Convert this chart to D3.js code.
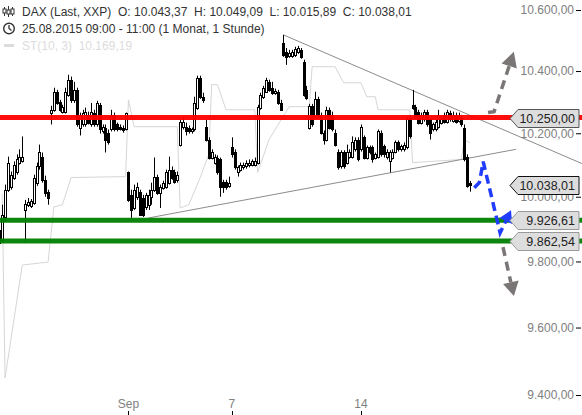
<!DOCTYPE html>
<html><head><meta charset="utf-8">
<script src="https://cdn.jsdelivr.net/npm/d3@7"></script>
<style>
html,body{margin:0;padding:0;background:#fff;}
svg{display:block;font-family:"Liberation Sans",Arial,sans-serif;}
</style></head><body>
<svg id="chart" width="582" height="415"></svg>
<script>
// trading days on the chart, 9 hourly candles each
const days = ["25.08","26.08","27.08","28.08","31.08","01.09","02.09","03.09","04.09","07.09",
  "08.09","09.09","10.09","11.09","14.09","15.09","16.09","17.09","18.09"];
const candlesPerDay = 9;
const dayTicks = [["01.09","Sep"],["07.09","7"],["14.09","14"]];

// hourly candles [open, high, low, close]
const ohlc = [
  [9897,9990,9813,9857],[9866,9975,9860,9944],[9937,10038,9922,10022],[10022,10126,10015,10107],[10031,10079,10022,10069],
  [10060,10111,10053,10101],[10079,10133,10069,10117],[10107,10149,10101,10126],[10111,10190,10107,10126],
  [9959,9990,9857,9978],[9975,9996,9968,9984],[9971,9993,9965,9987],[9981,10069,9975,10060],[10044,10107,10034,10095],
  [10095,10164,10085,10139],[10126,10139,10044,10053],[10053,10066,10000,10012],[10015,10022,9975,9996],
  [10266,10288,10228,10275],[10275,10346,10269,10333],[10333,10339,10291,10297],[10301,10307,10269,10275],[10269,10291,10263,10285],
  [10269,10346,10263,10333],[10323,10388,10317,10372],[10372,10382,10297,10307],[10307,10365,10297,10339],
  [10339,10346,10221,10228],[10218,10266,10193,10259],[10228,10275,10221,10266],[10228,10282,10221,10269],[10259,10269,10228,10234],
  [10228,10297,10221,10269],[10266,10275,10221,10228],[10228,10304,10221,10297],[10291,10297,10199,10212],
  [10206,10228,10199,10221],[10218,10228,10139,10180],[10202,10212,10164,10171],[10212,10275,10206,10259],[10259,10266,10206,10212],
  [10228,10234,10206,10212],[10221,10228,10209,10212],[10218,10225,10202,10209],[10212,10266,10209,10266],
  [10076,10079,9984,9990],[10006,10022,9934,9959],[9965,10038,9959,10022],[10000,10044,9990,10031],[10015,10022,9940,9944],
  [9996,10006,9937,9944],[9968,10012,9959,10006],[9975,10022,9959,10006],[10000,10044,9975,10022],
  [10022,10123,10015,10063],[10063,10069,10006,10012],[10012,10038,9965,10031],[10028,10050,10022,10044],[10031,10085,10025,10076],
  [10044,10126,10038,10085],[10085,10095,10053,10060],[10079,10085,10041,10047],[10053,10079,10044,10069],
  [10164,10244,10158,10237],[10221,10250,10212,10237],[10221,10234,10193,10206],[10218,10225,10199,10206],[10206,10218,10199,10212],
  [10212,10317,10206,10297],[10282,10385,10275,10378],[10378,10385,10310,10317],[10317,10330,10297,10307],
  [10221,10244,10174,10180],[10180,10187,10117,10123],[10123,10149,10117,10139],[10107,10133,10101,10126],[10123,10130,10069,10076],
  [10117,10123,10000,10031],[10047,10053,10012,10031],[10047,10053,10022,10031],[10034,10063,10028,10044],
  [10155,10187,10123,10133],[10139,10149,10085,10092],[10079,10098,10063,10092],[10085,10107,10079,10101],[10092,10107,10085,10101],
  [10095,10114,10088,10107],[10098,10117,10092,10107],[10101,10117,10095,10111],[10101,10123,10095,10111],
  [10107,10291,10101,10285],[10282,10330,10275,10323],[10317,10352,10310,10346],[10333,10378,10330,10372],[10365,10372,10333,10339],
  [10346,10365,10323,10330],[10330,10343,10323,10336],[10333,10339,10291,10297],[10297,10307,10272,10275],
  [10492,10518,10446,10453],[10463,10475,10420,10446],[10450,10469,10443,10459],[10450,10469,10443,10463],[10453,10479,10446,10472],
  [10463,10482,10456,10475],[10469,10475,10440,10446],[10430,10437,10317,10323],[10339,10352,10307,10313],
  [10218,10294,10212,10288],[10288,10294,10221,10228],[10253,10333,10247,10310],[10310,10317,10247,10253],[10259,10266,10196,10202],
  [10202,10209,10164,10180],[10180,10285,10174,10275],[10275,10282,10212,10218],[10259,10269,10206,10212],
  [10202,10212,10158,10164],[10139,10149,10085,10092],[10095,10146,10088,10139],[10139,10146,10088,10095],[10107,10164,10101,10139],
  [10126,10149,10120,10142],[10126,10190,10120,10171],[10149,10187,10142,10180],[10180,10187,10111,10117],
  [10149,10228,10142,10221],[10187,10193,10117,10123],[10123,10161,10117,10155],[10155,10161,10133,10139],[10155,10161,10107,10117],
  [10123,10139,10117,10133],[10126,10212,10120,10206],[10202,10209,10126,10133],[10158,10164,10123,10133],
  [10126,10149,10117,10142],[10111,10146,10076,10139],[10123,10149,10117,10142],[10142,10177,10136,10171],[10171,10177,10142,10149],
  [10149,10164,10142,10158],[10149,10171,10142,10164],[10155,10250,10149,10244],[10250,10256,10183,10190],
  [10291,10339,10275,10282],[10285,10291,10247,10253],[10269,10275,10228,10234],[10234,10266,10228,10259],[10244,10275,10237,10269],
  [10269,10275,10221,10228],[10244,10250,10180,10202],[10212,10234,10206,10228],[10212,10244,10206,10237],
  [10221,10275,10215,10259],[10234,10250,10228,10244],[10259,10266,10231,10237],[10237,10275,10231,10269],[10266,10272,10237,10244],
  [10240,10269,10234,10259],[10259,10266,10231,10237],[10240,10266,10234,10253],[10250,10259,10221,10228],
  [10218,10228,10111,10117],[10126,10133,10028,10034],[10043.37,10049.09,10015.89,10038.01]
];

// SuperTrend(10,3) vertices [candle index, value]
const supertrend = [
  [1,10010],[2,9450],[8,9789],[17,9798],[19,9968],[22,9975],[25,10060],[44,10063],[45,10307],[47,10221],
  [62,10221],[63,9965],[66,9975],[70,10060],[73,10133],[74,10356],[76,10356],[79,10275],[89,10275],[90,10076],
  [94,10180],[101,10285],[108,10285],[109,10414],[117,10414],[120,10362],[126,10362],[128,10317],[131,10317],
  [132,10275],[143,10275],[144,10107],[161,10117],[162,10180],[164,10169.19]
];

const yTicks = [9400, 9600, 9800, 10000, 10200, 10400, 10600];
const levels = [10250, 9926.61, 9862.54];
const levelColors = ["#ff0000", "#008000", "#008000"];
const levelBorders = ["#555", "#999", "#999"];
const trendUpper = [[99, 10518], [203, 10104]];
const trendLower = [[52, 9934], [180, 10149]];
const arrowUp = [[170.3, 10266], [172.4, 10269], [179.3, 10463]];
const arrowDown = [[175.5, 9844], [179.3, 9695]];
const arrowBlue = [[165.5, 10028], [167.3, 10045], [168.2, 10090], [168.6, 10110], [174.5, 9888], [178.3, 9958]];

const W = 582, H = 415;
const svg = d3.select("#chart");
const de = d3.formatLocale({decimal: ",", thousands: ".", grouping: [3], currency: ["", " €"]});
const fmt = de.format(",.2f");

const x = d3.scaleLinear().domain([0, 175]).range([-0.7, 501.55]);
const y = d3.scaleLog().domain([9400, 10600]).range([395, 10]);
const px = i => Math.round(x(i));

// supertrend
svg.append("path")
  .datum(supertrend)
  .attr("d", d3.line().x(d => x(d[0])).y(d => y(d[1])))
  .attr("fill", "none").attr("stroke", "#d6d6d6").attr("stroke-width", 1);

// trend lines
[trendUpper, trendLower].forEach(t => {
  svg.append("line")
    .attr("x1", x(t[0][0])).attr("y1", y(t[0][1]))
    .attr("x2", x(t[1][0])).attr("y2", y(t[1][1]))
    .attr("stroke", "#8c8c8c").attr("stroke-width", 1);
});

// candles
const cg = svg.append("g");
cg.selectAll("line").data(ohlc).join("line")
  .attr("x1", (d, i) => px(i) + 0.5).attr("x2", (d, i) => px(i) + 0.5)
  .attr("y1", d => y(d[1])).attr("y2", d => y(d[2]))
  .attr("stroke", "#000").attr("stroke-width", 1);
cg.selectAll("rect").data(ohlc).join("rect")
  .attr("x", (d, i) => px(i) - 0.5)
  .attr("width", 2)
  .attr("y", d => Math.round(y(Math.max(d[0], d[3]))) + 0.5)
  .attr("height", d => Math.max(1, Math.round(y(Math.min(d[0], d[3]))) - Math.round(y(Math.max(d[0], d[3])))))
  .attr("fill", d => d[3] >= d[0] ? "#fff" : "#000")
  .attr("stroke", "#000").attr("stroke-width", 1);

// horizontal levels
svg.selectAll("line.level").data(levels).join("line")
  .attr("class", "level")
  .attr("x1", 0).attr("x2", W)
  .attr("y1", d => y(d)).attr("y2", d => y(d))
  .attr("stroke", (d, i) => levelColors[i]).attr("stroke-width", 5).attr("opacity", 0.95);

// dashed arrows
function arrow(pts, color, dash, headLen, headW) {
  const p = pts.map(d => [x(d[0]), y(d[1])]);
  const tip = p[p.length - 1], prev = p[p.length - 2];
  const dx = tip[0] - prev[0], dy = tip[1] - prev[1];
  const len = Math.hypot(dx, dy), ux = dx / len, uy = dy / len;
  const base = [tip[0] - ux * headLen, tip[1] - uy * headLen];
  const shaft = p.slice(0, -1).concat([base]);
  svg.append("path")
    .attr("d", d3.line()(shaft))
    .attr("fill", "none").attr("stroke", color).attr("stroke-width", 3.5)
    .attr("stroke-dasharray", dash);
  svg.append("path")
    .attr("d", d3.line()([tip, [base[0] - uy * headW, base[1] + ux * headW], [base[0] + uy * headW, base[1] - ux * headW]]) + "Z")
    .attr("fill", color);
}
arrow(arrowUp, "#7b7676", "9,6", 15, 8);
arrow(arrowDown, "#7b7676", "9,6", 14, 8);
arrow(arrowBlue, "#1f3cff", "9,5", 12, 7);

// y axis
const yAxis = d3.axisLeft(y).tickValues(yTicks).tickFormat(fmt).tickSizeInner(5).tickSizeOuter(0).tickPadding(2);
const ya = svg.append("g").attr("transform", `translate(581,0)`).call(yAxis);
ya.select(".domain").remove();
ya.selectAll("text").attr("fill", "#808080").attr("font-size", 12).attr("font-family", "Liberation Sans, Arial, sans-serif");
ya.selectAll("line").attr("stroke", "#000");

// price labels on the right
function priceLabel(v, border) {
  const yy = Math.round(y(v)) + 0.5;
  const g = svg.append("g");
  g.append("path")
    .attr("d", `M510,${yy}L518,${yy - 9}L579,${yy - 9}L579,${yy + 9}L518,${yy + 9}Z`)
    .attr("fill", "#dddddd").attr("stroke", border).attr("stroke-width", 1);
  g.append("text").attr("x", 575).attr("y", yy + 4.5)
    .attr("text-anchor", "end").attr("font-size", 12.5).attr("fill", "#222")
    .text(fmt(v));
}
levels.forEach((v, i) => priceLabel(v, levelBorders[i]));
priceLabel(ohlc[ohlc.length - 1][3], "#111");

// x axis ticks
const xt = svg.append("g");
dayTicks.forEach(([day, label]) => {
  const i = days.indexOf(day) * candlesPerDay;
  xt.append("text").attr("x", x(i)).attr("y", 408).attr("text-anchor", "middle")
    .attr("font-size", 12).attr("fill", "#808080").text(label);
  xt.append("line").attr("x1", px(i) + 0.5).attr("x2", px(i) + 0.5).attr("y1", 411).attr("y2", 415)
    .attr("stroke", "#000");
});

// header
const last = ohlc[ohlc.length - 1];
const hd = svg.append("g").attr("font-size", 12).attr("fill", "#333");
hd.append("text").attr("x", 22).attr("y", 16).style("white-space", "pre")
  .text(`DAX (Last, XXP)  O: ${fmt(last[0])}  H: ${fmt(last[1])}  L: ${fmt(last[2])}  C: ${fmt(last[3])}`);
hd.append("text").attr("x", 22).attr("y", 33)
  .text(`${days[0]}.2015 09:00 - 11:00 (1 Monat, 1 Stunde)`);
hd.append("text").attr("x", 22).attr("y", 50).attr("fill", "#dcdcdc").style("white-space", "pre")
  .text(`ST(10, 3)  ${fmt(supertrend[supertrend.length - 1][1])}`);
// icons
const ic = svg.append("g").attr("stroke", "#333").attr("fill", "none");
[[4.5, 7, 16, 9, 13], [8.5, 6, 17, 10, 14], [12.5, 7, 16, 9, 14]].forEach(([cx, t, b, bt, bb]) => {
  ic.append("line").attr("x1", cx).attr("x2", cx).attr("y1", t).attr("y2", b);
  ic.append("rect").attr("x", cx - 1.5).attr("y", bt).attr("width", 3).attr("height", bb - bt).attr("fill", "#fff");
});
ic.append("circle").attr("cx", 9).attr("cy", 28.5).attr("r", 5.3).attr("stroke-width", 1.4);
ic.append("path").attr("d", "M9,25V28.5L11.5,30.5").attr("stroke-width", 1.3);
svg.append("rect").attr("x", 4).attr("y", 44).attr("width", 10).attr("height", 3).attr("fill", "#dcdcdc");
</script>
</body></html>
